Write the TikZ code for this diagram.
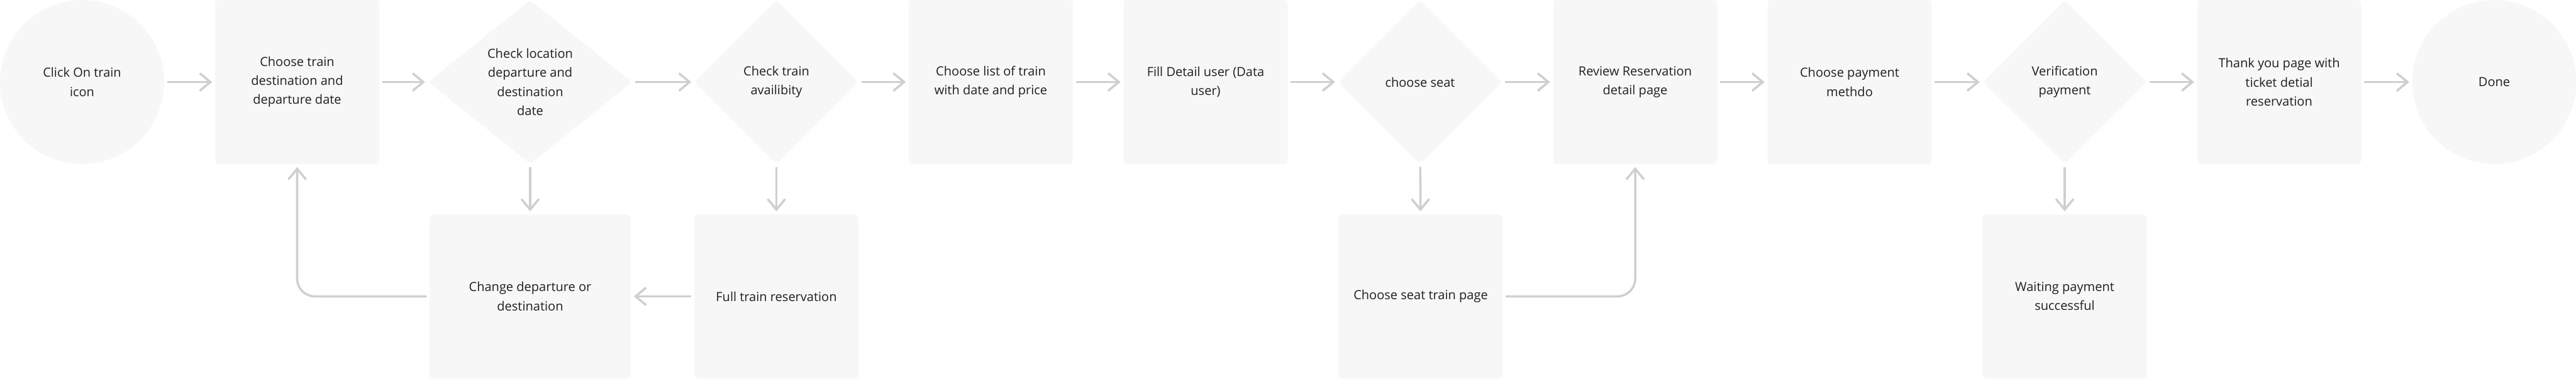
\documentclass[tikz,border=0pt]{standalone}
\usepackage{fontspec}
\setmainfont{Open Sans}
\usetikzlibrary{arrows.meta,shapes.geometric}
\definecolor{boxgrey}{HTML}{F7F7F7}
\definecolor{linegrey}{HTML}{CFCFCF}
\definecolor{textgrey}{HTML}{1F1F1F}

\begin{document}
\begin{tikzpicture}[
  font=\fontsize{5.7}{8.6}\selectfont,
  text=textgrey,
  endpt/.style={circle,fill=boxgrey,minimum size=2.61cm,inner sep=0pt,align=center},
  screenbox/.style={fill=boxgrey,rounded corners=0.6mm,minimum width=2.61cm,minimum height=2.61cm,inner sep=0pt,align=center},
  decision/.style={diamond,fill=boxgrey,rounded corners=0.6mm,minimum width=2.61cm,minimum height=2.61cm,inner sep=0pt,align=center},
  ln/.style={draw=linegrey,line width=1pt,-{Straight Barb[length=1.7mm,width=2.8mm]},shorten <=0.4mm,shorten >=0.4mm},
  back/.style={ln,rounded corners=2.8mm}
]
\useasboundingbox (0,0) rectangle (40.96,-6.02);

% main flow
\node[endpt] (start) at (1.305,-1.305) {Click On train\\ icon};
\node[screenbox] (dest) at (4.725,-1.305) {Choose train\\ destination and\\ departure date};
\node[decision,minimum width=3.25cm] (loc) at (8.43,-1.305) {Check location\\ departure and\\ destination\\ date};
\node[decision] (avail) at (12.345,-1.305) {Check train\\ availibity};
\node[screenbox] (list) at (15.755,-1.305) {Choose list of train\\ with date and price};
\node[screenbox] (fill) at (19.17,-1.305) {Fill Detail user (Data\\ user)};
\node[decision] (seat) at (22.58,-1.305) {choose seat};
\node[screenbox] (review) at (26.0,-1.305) {Review Reservation\\ detail page};
\node[screenbox] (pay) at (29.41,-1.305) {Choose payment\\ methdo};
\node[decision] (verify) at (32.83,-1.305) {Verification\\ payment};
\node[screenbox] (thanks) at (36.24,-1.305) {Thank you page with\\ ticket detial\\ reservation};
\node[endpt] (done) at (39.66,-1.305) {Done};

% side branches
\node[screenbox,minimum width=3.2cm] (change) at (8.43,-4.715) {Change departure or\\ destination};
\node[screenbox] (full) at (12.345,-4.715) {Full train reservation};
\node[screenbox] (seatpage) at (22.59,-4.715) {Choose seat train page};
\node[screenbox] (wait) at (32.83,-4.715) {Waiting payment\\ successful};

\foreach \a/\b in {start/dest,dest/loc,loc/avail,avail/list,list/fill,fill/seat,seat/review,review/pay,pay/verify,verify/thanks,thanks/done}{\draw[ln] (\a) -- (\b);}
\foreach \a/\b in {loc/change,avail/full,seat/seatpage,verify/wait}{\draw[ln] (\a) -- (\b);}
\draw[ln] (full) -- (change);
\draw[back] (change.west) -| (dest.south);
\draw[back] (seatpage.east) -| (review.south);
\end{tikzpicture}
\end{document}
